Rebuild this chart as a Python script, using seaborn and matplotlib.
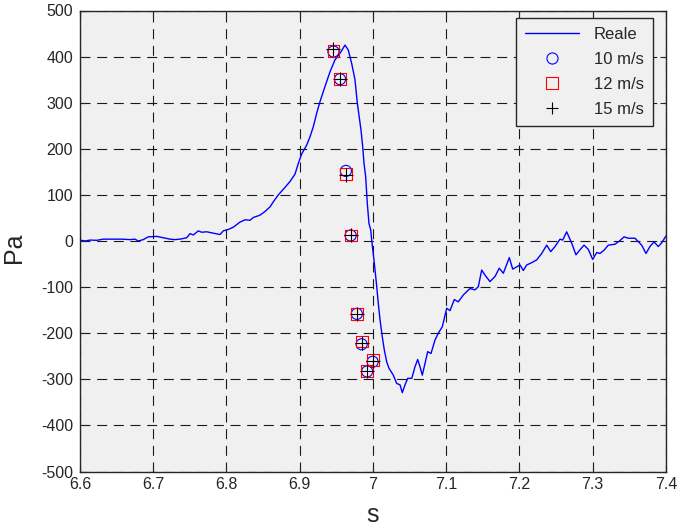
import numpy as np
import pandas as pd
import matplotlib
matplotlib.use("Agg")
import matplotlib.pyplot as plt
from matplotlib.lines import Line2D
from matplotlib.ticker import FuncFormatter
import seaborn as sns

# Reale (measured) signal
reale_s = [6.6000, 6.6068, 6.6137, 6.6228, 6.6318, 6.6455, 6.6569, 6.6683, 6.6751, 6.6796,
           6.6864, 6.6932, 6.7047, 6.7137, 6.7229, 6.7297, 6.7365, 6.7457, 6.7502, 6.7547,
           6.7615, 6.7661, 6.7730, 6.7820, 6.7911, 6.7956, 6.8025, 6.8093, 6.8184, 6.8253,
           6.8321, 6.8366, 6.8457, 6.8526, 6.8594, 6.8639, 6.8707, 6.8775, 6.8867, 6.8935,
           6.8980, 6.9027, 6.9095, 6.9140, 6.9185, 6.9231, 6.9276, 6.9321, 6.9368, 6.9413,
           6.9481, 6.9549, 6.9618, 6.9663, 6.9709, 6.9754, 6.9786, 6.9813, 6.9836, 6.9859,
           6.9877, 6.9900, 6.9922, 6.9945, 6.9969, 6.9982, 7.0018, 7.0051, 7.0072, 7.0096,
           7.0127, 7.0154, 7.0187, 7.0218, 7.0277, 7.0324, 7.0369, 7.0400, 7.0437, 7.0474,
           7.0529, 7.0573, 7.0610, 7.0642, 7.0673, 7.0710, 7.0747, 7.0792, 7.0846, 7.0891,
           7.0946, 7.1006, 7.1051, 7.1110, 7.1164, 7.1233, 7.1324, 7.1392, 7.1438, 7.1484,
           7.1529, 7.1597, 7.1666, 7.1724, 7.1779, 7.1861, 7.1907, 7.1962, 7.2007, 7.2052,
           7.2098, 7.2167, 7.2235, 7.2303, 7.2371, 7.2426, 7.2485, 7.2553, 7.2590, 7.2644,
           7.2713, 7.2771, 7.2826, 7.2881, 7.2939, 7.2999, 7.3054, 7.3099, 7.3154, 7.3212,
           7.3304, 7.3372, 7.3427, 7.3485, 7.3577, 7.3668, 7.3727, 7.3781, 7.3836, 7.3895,
           7.3941, 7.4000]
reale_pa = [2, 0, 2, 1.5, 4, 4, 4, 3, 4, 0,
            3, 9, 10, 7, 4, 3, 4, 7, 16, 13,
            22, 19, 20, 17, 14, 22, 25, 30, 41, 46,
            45, 51, 56, 64, 74, 85, 100, 112, 129, 145,
            168, 189, 208, 226, 248, 277, 302, 324, 346, 367,
            393, 407, 425, 414, 385, 350, 299, 268, 241, 205,
            169, 139, 82, 38, 24, 2, -48, -99, -135, -171,
            -208, -236, -262, -276, -291, -309, -312, -329, -312, -298,
            -298, -273, -257, -273, -291, -265, -240, -244, -215, -200,
            -186, -146, -151, -127, -132, -117, -103, -106, -99, -63,
            -74, -88, -77, -59, -70, -36, -61, -56, -52, -64,
            -52, -47, -41, -27, -9, -23, -12, 4, 2, 20,
            -5, -30, -19, -9, -18, -40, -25, -27, -20, -9,
            -7, 1, 9, 6, 6, -9, -27, -12, -2, -12,
            -4, 11]

# Model points
pts_s = [6.946, 6.955, 6.963, 6.9695, 6.978, 6.9845, 6.9995, 6.992]
v10_pa = [411, 351, 152, 12, -158, -224, -262, -283]
v12_pa = [412, 352, 146, 12, -158, -218, -258, -282]
v15_pa = [416, 352, 144, 12, -158, -222, -260, -283]

DARK = "#262626"

sns.set_theme(style="whitegrid", rc={
    "axes.facecolor": "#f0f0f0",
    "figure.facecolor": "white",
    "axes.edgecolor": DARK,
    "axes.linewidth": 1.0,
    "grid.color": "#1a1a1a",
    "grid.linestyle": (0, (9, 6)),
    "grid.linewidth": 0.8,
    "xtick.direction": "in",
    "ytick.direction": "in",
    "xtick.top": True,
    "ytick.right": True,
    "xtick.bottom": True,
    "ytick.left": True,
    "axes.unicode_minus": False,
})
plt.rcParams["font.family"] = ["Liberation Sans", "DejaVu Sans"]

fig = plt.figure(figsize=(6.79, 5.30), dpi=100)
ax = fig.add_axes([80 / 679, 1 - 471.5 / 530, 586 / 679, 461 / 530])

df_line = pd.DataFrame({"s": reale_s, "Pa": reale_pa})
sns.lineplot(data=df_line, x="s", y="Pa", ax=ax, color="#0000ff", linewidth=1.0,
             estimator=None, sort=False)

df10 = pd.DataFrame({"s": pts_s, "Pa": v10_pa})
df12 = pd.DataFrame({"s": pts_s, "Pa": v12_pa})
df15 = pd.DataFrame({"s": pts_s, "Pa": v15_pa})
sns.scatterplot(data=df10, x="s", y="Pa", ax=ax, marker="o", s=64,
                facecolors="none", edgecolor="#0000ff", linewidth=0.8, zorder=3)
sns.scatterplot(data=df12, x="s", y="Pa", ax=ax, marker="s", s=72,
                facecolors="none", edgecolor="#ff0000", linewidth=0.8, zorder=3)
sns.scatterplot(data=df15, x="s", y="Pa", ax=ax, marker="+", s=90,
                color="black", linewidth=0.8, zorder=4)

ax.set_xlim(6.6, 7.4)
ax.set_ylim(-500, 500)
ax.set_xticks(np.arange(6.6, 7.41, 0.1))
ax.set_yticks(np.arange(-500, 501, 100))
ax.xaxis.set_major_formatter(FuncFormatter(lambda v, p: f"{v:g}"))
ax.yaxis.set_major_formatter(FuncFormatter(lambda v, p: f"{v:g}"))
ax.tick_params(axis="both", which="major", labelsize=11.5, length=4, width=0.8,
               color=DARK, labelcolor=DARK)
ax.tick_params(axis="y", pad=5)
ax.tick_params(axis="x", pad=4)
for sp in ax.spines.values():
    sp.set_color(DARK)
    sp.set_linewidth(1.0)
ax.grid(True)

ax.set_xlabel("s", fontsize=18, color=DARK, labelpad=8)
ax.set_ylabel("Pa", fontsize=18, color=DARK)
ax.yaxis.set_label_coords(-0.092, 0.485)

handles = [
    Line2D([], [], color="#0000ff", linewidth=1.0),
    Line2D([], [], linestyle="none", marker="o", markersize=8, markerfacecolor="none",
           markeredgecolor="#0000ff", markeredgewidth=0.8),
    Line2D([], [], linestyle="none", marker="s", markersize=8.5, markerfacecolor="none",
           markeredgecolor="#ff0000", markeredgewidth=0.8),
    Line2D([], [], linestyle="none", marker="+", markersize=9, color="black",
           markeredgewidth=0.8),
]
leg = ax.legend(handles, ["Reale", "10 m/s", "12 m/s", "15 m/s"], loc="upper right",
                bbox_to_anchor=(0.9778, 0.9837), borderaxespad=0, fontsize=12,
                frameon=True, fancybox=False,
                framealpha=1, facecolor="#f0f0f0", edgecolor=DARK,
                handlelength=3.2, borderpad=0.55, labelspacing=0.6, handletextpad=0.9)
leg.get_frame().set_linewidth(1.0)
for t in leg.get_texts():
    t.set_color(DARK)

fig.savefig("out.png", dpi=100)
